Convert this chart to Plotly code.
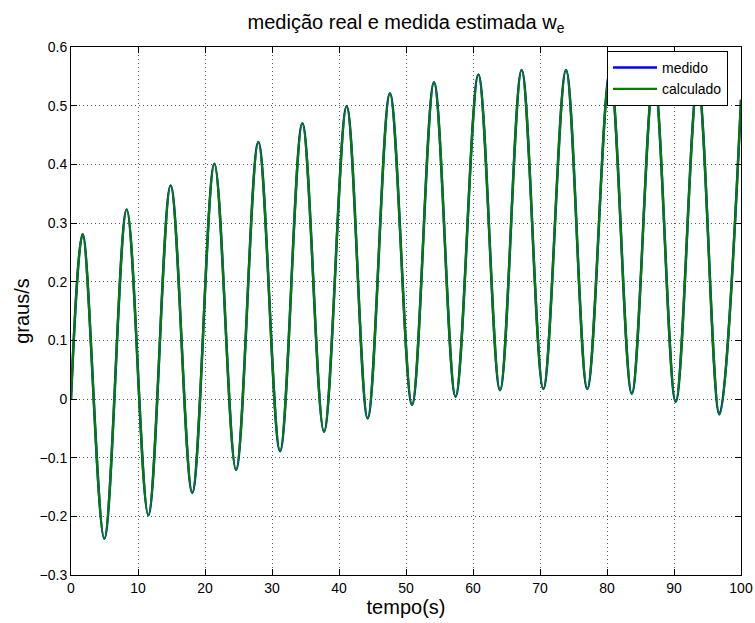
import plotly.graph_objects as go

# Time (s) of start point, alternating peaks/troughs, and end point
tempo = [0, 1.74, 4.97, 8.31, 11.54, 14.87, 18.1, 21.4, 24.63, 27.96, 31.2,
         34.53, 37.76, 41.14, 44.28, 47.6, 50.9, 54.18, 57.4, 60.8, 64.03,
         67.26, 70.5, 73.88, 77.06, 80.45, 83.7, 87.0, 90.25, 93.55, 96.77, 100]

# Measured angular rate (graus/s) at those instants
medido = [0, 0.281, -0.238, 0.323, -0.198, 0.364, -0.160, 0.401, -0.121, 0.438,
          -0.089, 0.470, -0.056, 0.499, -0.033, 0.521, -0.010, 0.540, 0.004,
          0.553, 0.015, 0.561, 0.017, 0.561, 0.017, 0.558, 0.009, 0.552,
          -0.005, 0.542, -0.026, 0.510]

# Estimated angular rate (graus/s)
calculado = [0, 0.281, -0.238, 0.323, -0.198, 0.364, -0.160, 0.401, -0.121, 0.438,
             -0.089, 0.470, -0.056, 0.499, -0.033, 0.521, -0.010, 0.540, 0.004,
             0.553, 0.015, 0.561, 0.017, 0.561, 0.017, 0.558, 0.009, 0.552,
             -0.005, 0.542, -0.026, 0.510]

x_ticks = [0, 10, 20, 30, 40, 50, 60, 70, 80, 90, 100]
y_ticks = [-0.3, -0.2, -0.1, 0, 0.1, 0.2, 0.3, 0.4, 0.5, 0.6]

FONT = "Liberation Sans, Arial, sans-serif"

fig = go.Figure()
fig.add_trace(go.Scatter(
    x=tempo, y=medido, name="medido", mode="lines",
    line=dict(color="#0000FF", width=2.5, shape="spline", smoothing=1),
))
fig.add_trace(go.Scatter(
    x=tempo, y=calculado, name="calculado", mode="lines",
    line=dict(color="#008000", width=2.3, shape="spline", smoothing=1),
))

axis_common = dict(
    showline=True, linecolor="black", linewidth=1, mirror="ticks",
    ticks="inside", ticklen=6, tickcolor="black", tickwidth=1,
    showgrid=True, gridcolor="#555555", gridwidth=1, griddash="1px,3px",
    zeroline=False, automargin=False,
    tickfont=dict(family=FONT, size=14, color="black"),
)

fig.update_layout(
    width=755, height=623,
    margin=dict(l=71, r=14, t=47, b=48),
    paper_bgcolor="white", plot_bgcolor="white",
    font=dict(family=FONT, color="black"),
    title=dict(
        text="medição real e medida estimada w<sub>e</sub>",
        font=dict(family=FONT, size=20, color="black"),
        x=0.5, xref="paper", xanchor="center",
        y=1 - 22 / 623, yref="container", yanchor="middle",
    ),
    xaxis=dict(
        range=[0, 100], tickvals=x_ticks,
        title=dict(text="tempo(s)", font=dict(family=FONT, size=20), standoff=4),
        **axis_common,
    ),
    yaxis=dict(
        range=[-0.3, 0.6], tickvals=y_ticks,
        title=dict(text="graus/s", font=dict(family=FONT, size=20), standoff=4),
        **axis_common,
    ),
    legend=dict(
        x=(728 - 71) / 670, y=(574.5 - 51) / 527.5,
        xanchor="right", yanchor="top",
        bgcolor="white", bordercolor="black", borderwidth=1,
        font=dict(family=FONT, size=14, color="black"),
        itemwidth=44, tracegroupgap=0,
    ),
    showlegend=True,
)

fig.write_html("out.html")
